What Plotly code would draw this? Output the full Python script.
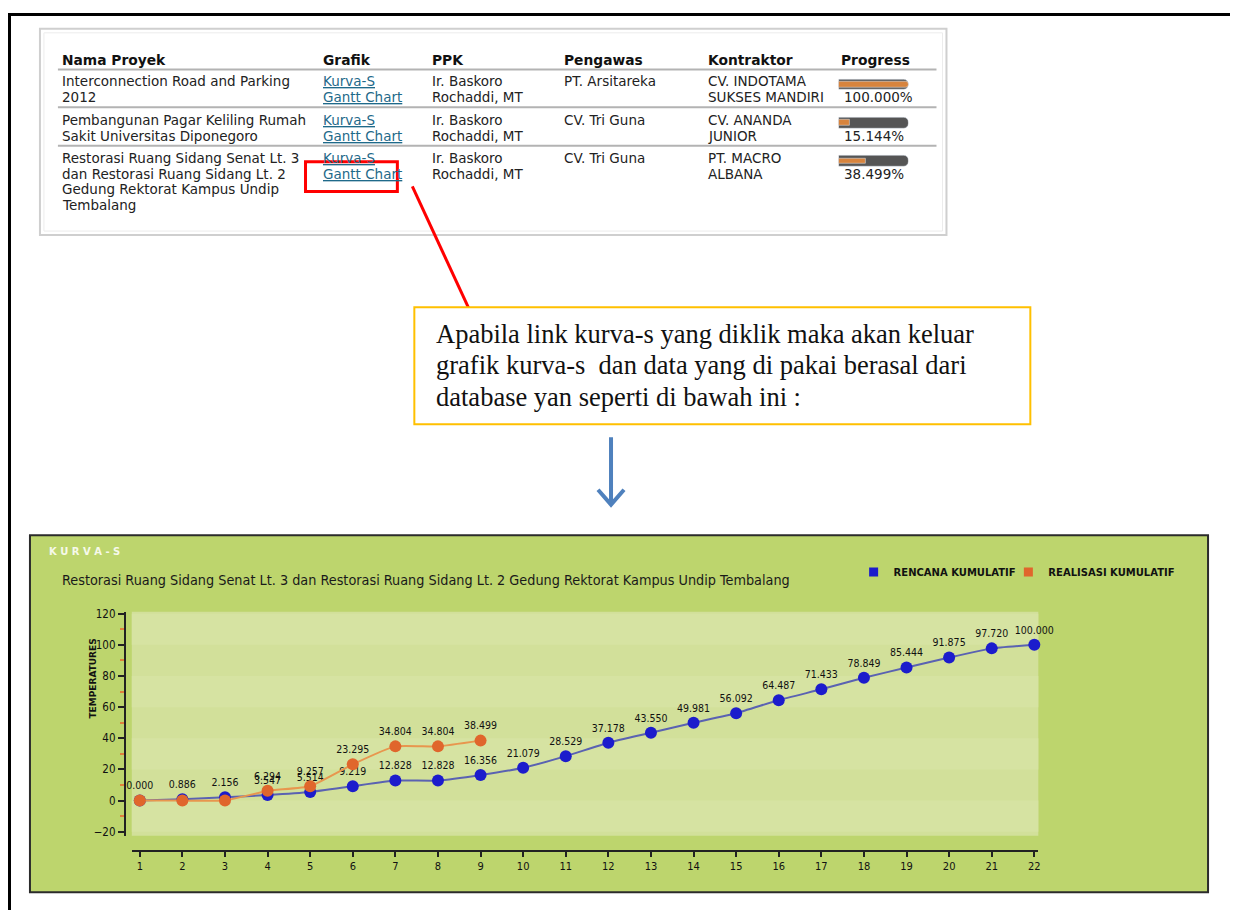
import plotly.graph_objects as go

# the page body has an 8px margin, so the figure starts at (8, 8)
OFF = 8
FW, FH = 1230, 902


def px(x):
    return (x - OFF) / FW


def py(y):
    return 1 - (y - OFF) / FH


# ---------------- data ----------------
periods = list(range(1, 23))
rencana = [0.000, 0.886, 2.156, 3.547, 5.514, 9.219, 12.828, 12.828, 16.356,
           21.079, 28.529, 37.178, 43.550, 49.981, 56.092, 64.487, 71.433,
           78.849, 85.444, 91.875, 97.720, 100.000]
realisasi = [0.000, 0.000, 0.000, 6.294, 9.257, 23.295, 34.804, 34.804, 38.499]

headers = ["Nama Proyek", "Grafik", "PPK", "Pengawas", "Kontraktor", "Progress"]
proyek = ["Interconnection Road and Parking<br>2012",
          "Pembangunan Pagar Keliling Rumah<br>Sakit Universitas Diponegoro",
          "Restorasi Ruang Sidang Senat Lt. 3<br>dan Restorasi Ruang Sidang Lt. 2<br>Gedung Rektorat Kampus Undip<br>Tembalang"]
grafik = ["Kurva-S<br>Gantt Chart"] * 3
ppk = ["Ir. Baskoro<br>Rochaddi, MT"] * 3
pengawas = ["PT. Arsitareka", "CV. Tri Guna", "CV. Tri Guna"]
kontraktor = ["CV. INDOTAMA<br>SUKSES MANDIRI", "CV. ANANDA<br>JUNIOR", "PT. MACRO<br>ALBANA"]
progress = [100.000, 15.144, 38.499]
progress_max = [100, 100, 100]

note_lines = ["Apabila link kurva-s yang diklik maka akan keluar",
              "grafik kurva-s  dan data yang di pakai berasal dari",
              "database yan seperti di bawah ini :"]

chart_title = "Restorasi Ruang Sidang Senat Lt. 3 dan Restorasi Ruang Sidang Lt. 2 Gedung Rektorat Kampus Undip Tembalang"

# ---------------- styles ----------------
BLUE = "#1c1ccc"
BLUE_LINE = "#5a62b2"
ORANGE = "#e0662c"
ORANGE_LINE = "#e8964e"
GREEN_OUT = "#bdd56d"
GREEN_IN = "#d2e09a"
GREEN_BAND = "#d6e3a2"
PIX = "DejaVu Sans Condensed, DejaVu Sans, sans-serif"
TBL = "DejaVu Sans, Verdana, sans-serif"
SERIF = "Liberation Serif, Times New Roman, serif"
LINK = "#1f6a8a"

fig = go.Figure()

# ---------------- S-curve chart ----------------
fig.add_trace(go.Scatter(
    x=periods, y=rencana, mode="lines+markers+text",
    text=[f"{v:.3f}" for v in rencana], textposition="top center",
    textfont=dict(family=PIX, size=10.5, color="#111"),
    line=dict(color=BLUE_LINE, width=2, shape="spline", smoothing=0.4),
    marker=dict(color=BLUE, size=12),
    showlegend=False, cliponaxis=False, xaxis="x", yaxis="y"))
fig.add_trace(go.Scatter(
    x=periods[:len(realisasi)], y=realisasi, mode="lines+markers+text",
    text=[f"{v:.3f}" if v != 0 else "" for v in realisasi], textposition="top center",
    textfont=dict(family=PIX, size=10.5, color="#111"),
    line=dict(color=ORANGE_LINE, width=2, shape="spline", smoothing=0.4),
    marker=dict(color=ORANGE, size=12),
    showlegend=False, cliponaxis=False, xaxis="x", yaxis="y"))
# legend entries (one legend box per entry, for precise placement)
fig.add_trace(go.Scatter(x=[None], y=[None], mode="markers", name="RENCANA KUMULATIF",
                         marker=dict(symbol="square", size=9, color=BLUE),
                         xaxis="x", yaxis="y", legend="legend"))
fig.add_trace(go.Scatter(x=[None], y=[None], mode="markers", name="REALISASI KUMULATIF",
                         marker=dict(symbol="square", size=9, color=ORANGE),
                         xaxis="x", yaxis="y", legend="legend2"))

# ---------------- progress bars in table ----------------
rows = list(range(len(progress)))
fig.add_trace(go.Bar(x=progress_max, y=rows, orientation="h", width=0.28,
                     marker=dict(color="#555555", cornerradius=5),
                     showlegend=False, xaxis="x2", yaxis="y2", hoverinfo="skip"))
fig.add_trace(go.Bar(x=progress, y=rows, orientation="h", width=0.15,
                     marker=dict(color="#d7843e", cornerradius=3),
                     showlegend=False, xaxis="x2", yaxis="y2"))

shapes = []
annotations = []


def rect(x0, y0, x1, y1, line_color, width=2, fill=None, layer="above"):
    shapes.append(dict(type="rect", xref="paper", yref="paper",
                       x0=px(x0), x1=px(x1), y0=py(y1), y1=py(y0),
                       line=dict(color=line_color, width=width),
                       fillcolor=fill, layer=layer))


def hline(x0, x1, y, color, width):
    shapes.append(dict(type="line", xref="paper", yref="paper",
                       x0=px(x0), x1=px(x1), y0=py(y), y1=py(y),
                       line=dict(color=color, width=width)))


def text(x, y, s, size, color="#222", family=TBL, xanchor="left", yanchor="middle", **kw):
    font = dict(size=size, color=color, family=family)
    font.update(kw.pop("font_extra", {}))
    annotations.append(dict(x=px(x), y=py(y), xref="paper", yref="paper", text=s,
                            showarrow=False, xanchor=xanchor, yanchor=yanchor,
                            align="left", font=font, **kw))


def cell(x, y_first, s, size=13.5, color="#222", step=16, **kw):
    for i, ln in enumerate(s.split("<br>")):
        text(x, y_first + i * step, ln, size, color=color, **kw)


# page border
rect(9.5, 9.5, 1234, 930, "#000000", width=3, layer="below")

# table box
rect(40, 24, 948, 232, "#cfcfcf", width=2, fill="white", layer="below")
rect(44, 28, 944, 228, "#ececec", width=1, layer="below")

col_x = [60, 322, 431, 563, 707, 840]
for cx, h in zip(col_x, headers):
    text(cx, 55, f"<b>{h}</b>", 13.8, color="#111")
hline(58, 938, 65, "#b3b3b3", 2)
hline(58, 938, 103, "#b3b3b3", 2)
hline(58, 938, 142, "#b3b3b3", 2)

row_y = [77, 116, 154]
for r in rows:
    t = row_y[r]
    cell(col_x[0], t, proyek[r])
    cell(col_x[1], t, grafik[r], color=LINK, font_extra=dict(lineposition="under"))
    cell(col_x[2], t, ppk[r])
    cell(col_x[3], t, pengawas[r])
    cell(col_x[4], t, kontraktor[r])
    cell(843, t + 16, f"{progress[r]:.3f}%")

# red highlight and pointer
rect(306, 158, 398, 188, "#ff0000", width=3)
shapes.append(dict(type="line", xref="paper", yref="paper",
                   x0=px(413), y0=py(183), x1=px(470), y1=py(307),
                   line=dict(color="#ff0000", width=3)))

# note box
rect(415, 305, 1032, 423, "#ffc000", width=2, fill="white")
for i, ln in enumerate(note_lines):
    text(435, 332 + i * 31.5, ln, 26.5, color="#111", family=SERIF)

# blue arrow
arrow_path = (f"M{px(612)},{py(436)} L{px(612)},{py(503)} "
              f"M{px(599)},{py(489)} L{px(612)},{py(504)} L{px(625)},{py(489)}")
shapes.append(dict(type="path", xref="paper", yref="paper", path=arrow_path,
                   line=dict(color="#4f81bd", width=4)))

# chart box
rect(30, 535, 1210, 895, "#2b2b2b", width=2, fill=GREEN_OUT, layer="below")
# plot region and bands
shapes.append(dict(type="rect", xref="x domain", yref="y domain", x0=0, x1=1, y0=0, y1=1,
                   fillcolor=GREEN_IN, line=dict(width=0), layer="below"))
for b0 in (-20, 20, 60, 100):
    shapes.append(dict(type="rect", xref="x domain", yref="y", x0=0, x1=1, y0=b0, y1=b0 + 20,
                       fillcolor=GREEN_BAND, line=dict(width=0), layer="below"))

text(47, 551, "<b>K U R V A - S</b>", 10, color="#f6f9ea", family=TBL)
text(60, 580, chart_title, 14.3, color="#1a1a1a", family=PIX)
annotations.append(dict(x=px(86), y=py(722), xref="paper", yref="paper",
                        text="<b>TEMPERATURES</b>", textangle=-90, showarrow=False,
                        font=dict(size=9, family=TBL, color="#111")))

legend_common = dict(orientation="h", yanchor="middle", xanchor="left",
                     bgcolor="rgba(0,0,0,0)", itemwidth=30,
                     font=dict(family=TBL, size=10, color="#111", weight="bold"))

fig.update_layout(
    width=FW, height=FH, margin=dict(l=0, r=0, t=0, b=0),
    paper_bgcolor="white", plot_bgcolor="rgba(0,0,0,0)",
    barmode="overlay", bargap=0,
    shapes=shapes, annotations=annotations,
    showlegend=True,
    legend=dict(x=px(855), y=py(572), **legend_common),
    legend2=dict(x=px(1010), y=py(572), **legend_common),
    xaxis=dict(domain=[px(132), px(1040)], range=[0.8125, 22.094], anchor="free",
               position=py(853), tickmode="array", tickvals=periods,
               ticks="outside", ticklen=5, tickwidth=2, tickcolor="#222",
               showline=True, linecolor="#222", linewidth=2, showgrid=False,
               zeroline=False, tickfont=dict(family=PIX, size=11, color="#111")),
    yaxis=dict(domain=[py(838), py(612)], range=[-22.5, 121.3], anchor="free",
               position=px(125), tick0=0, dtick=20, ticks="outside", ticklen=6,
               tickwidth=2, tickcolor="#222", showline=True, linecolor="#222",
               linewidth=2, showgrid=False, zeroline=False,
               minor=dict(dtick=10, ticks="outside", ticklen=4, tickcolor="#e0803a", showgrid=False),
               tickfont=dict(family=PIX, size=11.5, color="#111")),
    xaxis2=dict(domain=[px(840), px(910)], range=[0, 100], visible=False, anchor="y2"),
    yaxis2=dict(domain=[py(176.5), py(61)], range=[2.5, -0.5], visible=False, anchor="x2"),
)

fig.write_html("out.html")
